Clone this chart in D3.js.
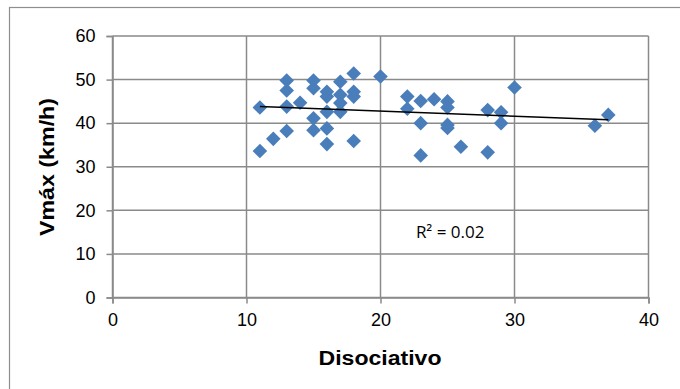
<!DOCTYPE html>
<html>
<head>
<meta charset="utf-8">
<script src="https://cdn.jsdelivr.net/npm/d3@7"></script>
<style>
  html, body { margin: 0; padding: 0; background: #fff; }
  svg { display: block; }
</style>
</head>
<body>
<svg id="chart" width="680" height="389"></svg>
<script>
// Disociativo score vs. maximum speed
const disociativo = [11, 11, 12, 13, 13, 13, 13, 14, 15, 15, 15, 15, 16, 16, 16, 16, 16,
  17, 17, 17, 17, 18, 18, 18, 18, 20, 22, 22, 23, 23, 23, 24, 25, 25, 25, 25, 26,
  28, 28, 29, 29, 30, 36, 37];
const vmax = [43.6, 33.6, 36.4, 49.8, 47.5, 43.8, 38.2, 44.7, 49.8, 48.0, 41.1, 38.4, 47.2, 46.1, 42.6, 38.8, 35.2,
  49.5, 46.5, 44.6, 42.6, 51.4, 47.2, 46.1, 35.9, 50.7, 46.1, 43.3, 45.1, 40.0, 32.6, 45.5, 45.0, 43.6, 39.6, 38.9, 34.6,
  43.0, 33.3, 42.5, 40.0, 48.2, 39.4, 41.9];
const xTicks = [0, 10, 20, 30, 40];
const yTicks = [0, 10, 20, 30, 40, 50, 60];
const xTitle = "Disociativo";
const yTitle = "Vmáx (km/h)";
const r2Label = "R² = 0.02";
const r2Pos = [25.2, 15.1];

const points = disociativo.map((d, i) => ({ x: d, y: vmax[i] }));

const svg = d3.select("#chart");
const x = d3.scaleLinear().domain([0, 40]).range([112.5, 648.5]);
const y = d3.scaleLinear().domain([0, 60]).range([297.5, 36]);

// outer chart-area frame
svg.append("rect")
  .attr("x", 9.5).attr("y", 7.5)
  .attr("width", 700).attr("height", 400)
  .attr("fill", "none").attr("stroke", "#8e8e8e").attr("stroke-width", 1.2);

const gridColor = "#8a8a8a";

// horizontal gridlines
svg.append("g").selectAll("line").data(yTicks).join("line")
  .attr("x1", x(0)).attr("x2", x(40))
  .attr("y1", d => y(d)).attr("y2", d => y(d))
  .attr("stroke", gridColor).attr("stroke-width", 1.5);

// vertical gridlines
svg.append("g").selectAll("line").data(xTicks).join("line")
  .attr("x1", d => x(d)).attr("x2", d => x(d))
  .attr("y1", y(0)).attr("y2", y(60))
  .attr("stroke", gridColor).attr("stroke-width", 1.5);

// axes with outward ticks
const yAxis = svg.append("g")
  .attr("transform", `translate(${x(0)},0)`)
  .call(d3.axisLeft(y).tickValues(yTicks).tickSize(6).tickPadding(11));
const xAxis = svg.append("g")
  .attr("transform", `translate(0,${y(0)})`)
  .call(d3.axisBottom(x).tickValues(xTicks).tickSize(6).tickPadding(10));

[yAxis, xAxis].forEach(g => {
  g.select(".domain").attr("stroke", gridColor).attr("stroke-width", 1.5);
  g.selectAll(".tick line").attr("stroke", gridColor).attr("stroke-width", 1.5);
  g.selectAll(".tick text")
    .attr("fill", "#000")
    .style("font-family", "'Liberation Sans', Arial, sans-serif")
    .style("font-size", "18px");
});

// markers
const half = 7.3;
svg.append("g").selectAll("path").data(points).join("path")
  .attr("transform", d => `translate(${x(d.x)},${y(d.y)})`)
  .attr("d", `M0,${-half}L${half},0L0,${half}L${-half},0Z`)
  .attr("fill", "#4a7ebb");

// least-squares trendline
const mx = d3.mean(points, d => d.x);
const my = d3.mean(points, d => d.y);
const slope = d3.sum(points, d => (d.x - mx) * (d.y - my)) / d3.sum(points, d => (d.x - mx) ** 2);
const intercept = my - slope * mx;
const [x0, x1] = d3.extent(points, d => d.x);
svg.append("line")
  .attr("x1", x(x0)).attr("y1", y(intercept + slope * x0))
  .attr("x2", x(x1)).attr("y2", y(intercept + slope * x1))
  .attr("stroke", "#000").attr("stroke-width", 1.5);

svg.append("text")
  .attr("x", x(r2Pos[0])).attr("y", y(r2Pos[1]))
  .attr("text-anchor", "middle").attr("dominant-baseline", "central")
  .style("font-family", "'Open Sans', 'Liberation Sans', sans-serif")
  .style("font-size", "17px")
  .text(r2Label);

// axis titles
svg.append("text")
  .attr("x", 380).attr("y", 358)
  .attr("text-anchor", "middle").attr("dominant-baseline", "central")
  .style("font-family", "'Liberation Sans', Arial, sans-serif")
  .style("font-weight", "bold").style("font-size", "20px")
  .attr("textLength", 123).attr("lengthAdjust", "spacingAndGlyphs")
  .text(xTitle);

svg.append("text")
  .attr("transform", `translate(47,167) rotate(-90)`)
  .attr("text-anchor", "middle").attr("dominant-baseline", "central")
  .style("font-family", "'Liberation Sans', Arial, sans-serif")
  .style("font-weight", "bold").style("font-size", "20px")
  .attr("textLength", 138).attr("lengthAdjust", "spacingAndGlyphs")
  .text(yTitle);
</script>
</body>
</html>
